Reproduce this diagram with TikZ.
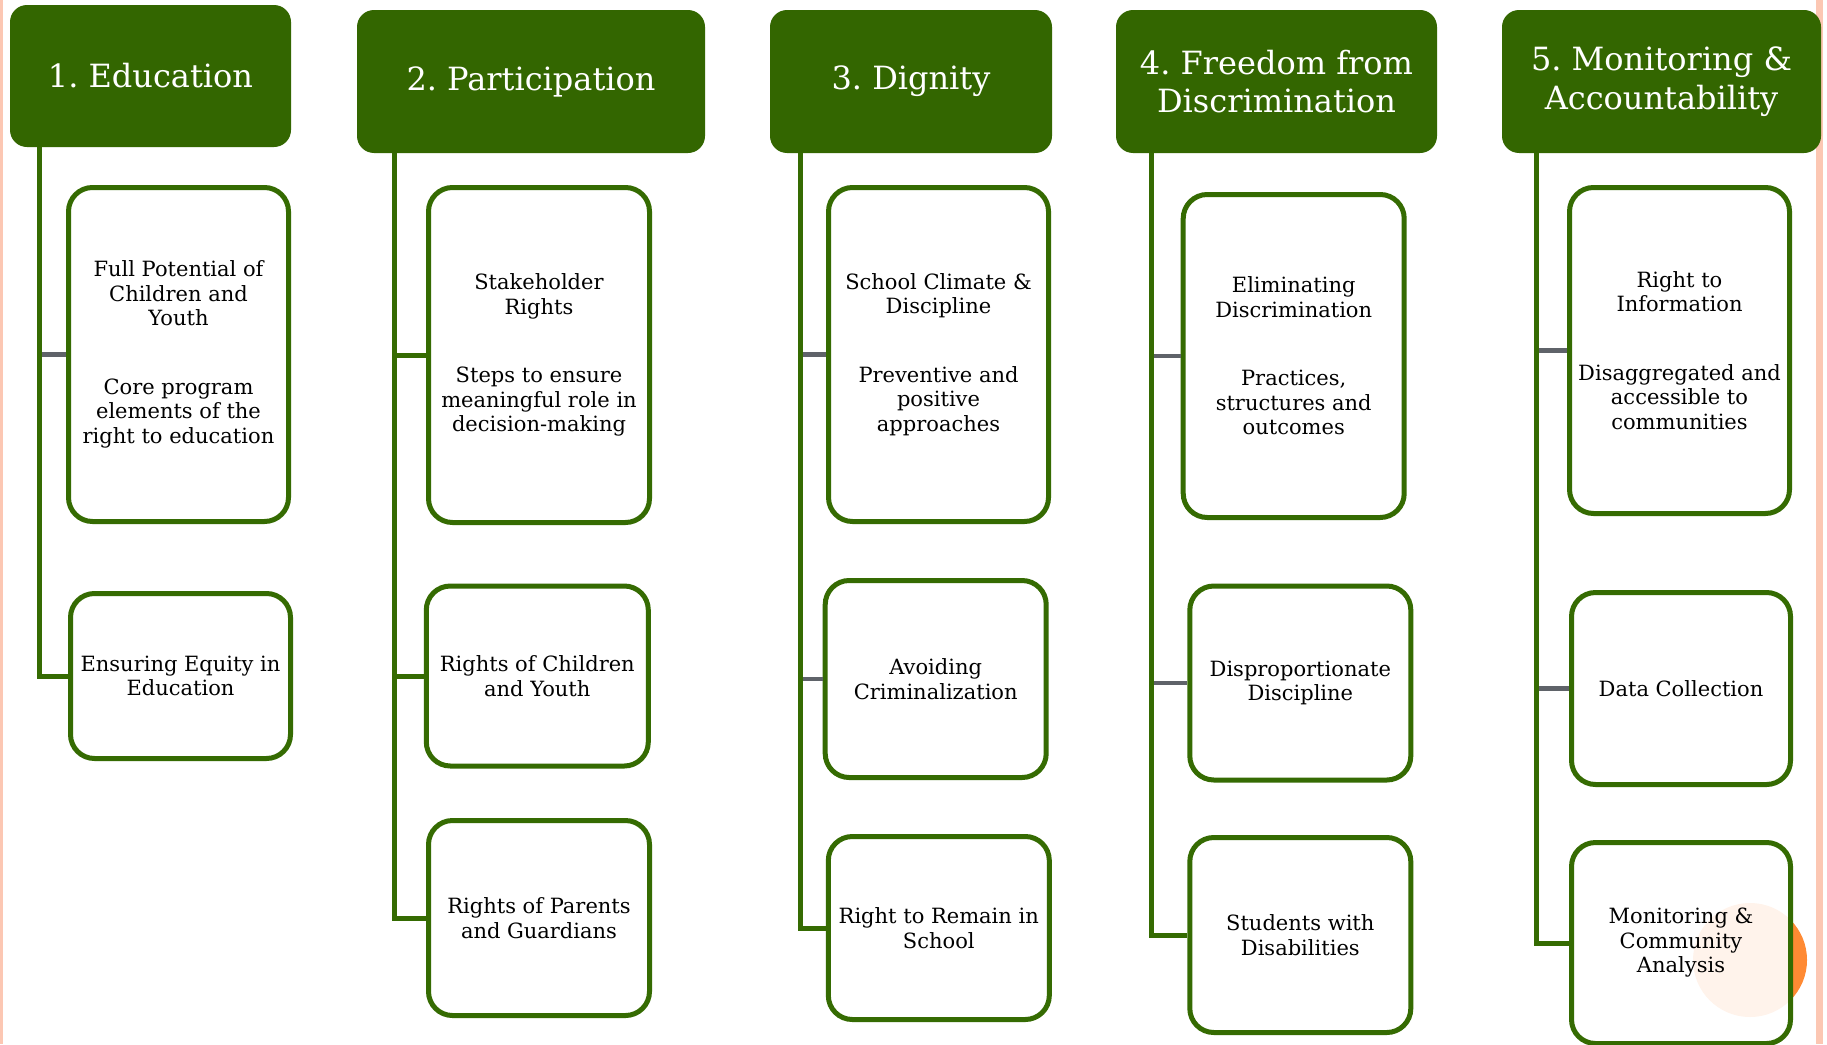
\documentclass[tikz,border=0pt]{standalone}
\usepackage{fontspec}
\setmainfont{DejaVu Serif}
\frenchspacing
\definecolor{hgreen}{HTML}{336600}
\definecolor{bgreen}{HTML}{356B02}
\definecolor{stubgray}{HTML}{5F6369}
\definecolor{pinkband}{HTML}{FCC7B3}
\definecolor{orangec}{HTML}{FF8A33}
\begin{document}
\begin{tikzpicture}[x=1pt,y=-1pt,
  header/.style={fill=hgreen, rounded corners=17pt, text=white, align=center,
    font=\fontsize{32}{38.5}\selectfont, inner sep=0pt},
  item/.style={draw=bgreen, line width=5pt, fill=white, rounded corners=24pt,
    align=center, font=\fontsize{21}{24.5}\selectfont, inner sep=0pt, text=black},
  trunk/.style={draw=bgreen, line width=5pt, line join=miter},
  gstub/.style={draw=stubgray, line width=4.5pt},
  grstub/.style={draw=bgreen, line width=5pt},
  band/.style={fill=pinkband}
]
\useasboundingbox (0,0) rectangle (1827,1044);
\fill[white] (0,0) rectangle (1827,1044);
\fill[band] (0,0) rectangle (3,1044);
\fill[band] (1816,0) rectangle (1823,1044);

% headers
\node[header, minimum width=281pt, minimum height=142pt] (h1) at (150.5,76) {1. Education};
\node[header, minimum width=348pt, minimum height=143pt] (h2) at (531,81.5) {2. Participation};
\node[header, minimum width=282pt, minimum height=143pt] (h3) at (911,81.5) {3. Dignity};
\node[header, minimum width=321pt, minimum height=143pt] (h4) at (1276.5,81.5) {4. Freedom from\\Discrimination};
\node[header, minimum width=319pt, minimum height=143pt] (h5) at (1661.5,81.5) {5. Monitoring \&\\Accountability};

% trunk tops
\coordinate (t1) at (39.6,147);
\coordinate (t2) at (394,153);
\coordinate (t3) at (800.5,153);
\coordinate (t4) at (1151,153);
\coordinate (t5) at (1536,153);

\fill[orangec] (1750,960) circle (57pt);

% items
\node[item, minimum width=220pt, minimum height=334pt] (c11) at (178.5,354.5)
  {Full Potential of\\Children and\\Youth\\[44pt]Core program\\elements of the\\right to education};
\node[item, minimum width=220pt, minimum height=165pt] (c12) at (180.5,676)
  {Ensuring Equity in\\Education};

\node[item, minimum width=221pt, minimum height=335pt] (c21) at (539,355)
  {Stakeholder\\Rights\\[44pt]Steps to ensure\\meaningful role in\\decision-making};
\node[item, minimum width=222pt, minimum height=180pt] (c22) at (537.3,676)
  {Rights of Children\\and Youth};
\node[item, minimum width=221pt, minimum height=195pt] (c23) at (539,918)
  {Rights of Parents\\and Guardians};

\node[item, minimum width=220pt, minimum height=334pt] (c31) at (938.5,354.5)
  {School Climate \&\\Discipline\\[44pt]Preventive and\\positive\\approaches};
\node[item, minimum width=221pt, minimum height=197pt] (c32) at (935.7,679)
  {Avoiding\\Criminalization};
\node[item, minimum width=221pt, minimum height=183pt] (c33) at (938.8,928)
  {Right to Remain in\\School};

\node[item, minimum width=221pt, minimum height=323pt] (c41) at (1293.7,356)
  {Eliminating\\Discrimination\\[44pt]Practices,\\structures and\\outcomes};
\node[item, minimum width=221pt, minimum height=194pt] (c42) at (1300.3,683)
  {Disproportionate\\Discipline};
\node[item, minimum width=221pt, minimum height=195pt] (c43) at (1300.3,935)
  {Students with\\Disabilities};

\node[item, minimum width=220pt, minimum height=326pt] (c51) at (1679.5,350.5)
  {Right to\\Information\\[44pt]Disaggregated and\\accessible to\\communities};
\node[item, minimum width=219pt, minimum height=192pt] (c52) at (1681,688.5)
  {Data Collection};
\node[item, minimum width=219pt, minimum height=201pt, fill opacity=0.9, text opacity=1] (c53) at (1681,943)
  {Monitoring \&\\Community\\Analysis};

% stubs
\draw[gstub] (t1 |- c11.west) -- (c11.west);
\draw[grstub] (t2 |- c21.west) -- (c21.west);
\draw[grstub] (t2 |- c22.west) -- (c22.west);
\draw[gstub] (t3 |- c31.west) -- (c31.west);
\draw[gstub] (t3 |- c32.west) -- (c32.west);
\draw[gstub] (t4 |- c41.west) -- (c41.west);
\draw[gstub] (t4 |- c42.west) -- (c42.west);
\draw[gstub] (t5 |- c51.west) -- (c51.west);
\draw[gstub] (t5 |- c52.west) -- (c52.west);

% trunks
\draw[trunk] (t1) |- (c12.west);
\draw[trunk] (t2) |- (c23.west);
\draw[trunk] (t3) |- (c33.west);
\draw[trunk] (t4) |- (c43.west);
\draw[trunk] (t5) |- (c53.west);
\end{tikzpicture}
\end{document}
